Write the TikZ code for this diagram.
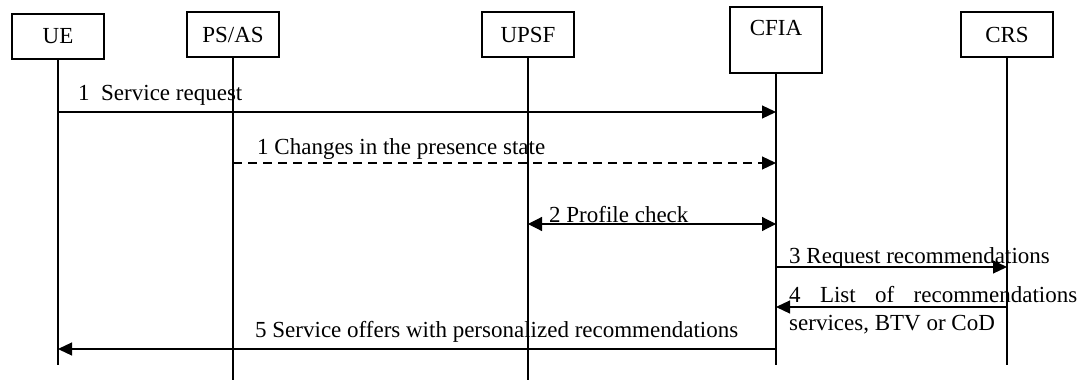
\documentclass[tikz,border=0pt]{standalone}
\usepackage{fontspec}
\setmainfont{Liberation Serif}
\usetikzlibrary{arrows.meta}
\begin{document}
\begin{tikzpicture}[x=1pt,y=-1pt,
  ent/.style={draw,line width=1.3pt,minimum width=92pt,minimum height=45pt,inner sep=0pt,font=\fontsize{23}{26}\selectfont},
  life/.style={line width=1.2pt},
  msg/.style={line width=1.2pt,-{Triangle[length=14pt,width=13pt]}},
  dmsg/.style={msg,dash pattern=on 9pt off 6pt},
  bmsg/.style={line width=1.2pt,{Triangle[length=14pt,width=14pt]}-{Triangle[length=14pt,width=14pt]}},
  lbl/.style={anchor=base west,inner sep=0pt,font=\fontsize{23}{26}\selectfont}]
\useasboundingbox (0,0) rectangle (1085,380);
% entities
\node[ent] (ue) at (58,36.5) {UE};
\node[ent] (ps) at (233,34.5) {PS/AS};
\node[ent] (upsf) at (528,34.5) {UPSF};
\node[ent,minimum height=66pt] (cfia) at (776,40) {};
\node[lbl,anchor=base] (cfiat) at (776,35) {CFIA};
\node[ent] (crs) at (1007,34.5) {CRS};
% lifeline ends
\coordinate (ueend) at (58,365);
\coordinate (psend) at (233,380);
\coordinate (upsfend) at (528,380);
\coordinate (cfiaend) at (776,365);
\coordinate (crsend) at (1007,365);
\draw[life] (ue.south) -- (ueend);
\draw[life] (ps.south) -- (psend);
\draw[life] (upsf.south) -- (upsfend);
\draw[life] (cfia.south) -- (cfiaend);
\draw[life] (crs.south) -- (crsend);
% message rows
\coordinate (r1) at (0,112);
\coordinate (r1b) at (0,163);
\coordinate (r2) at (0,224);
\coordinate (r3) at (0,267);
\coordinate (r4) at (0,307);
\coordinate (r5) at (0,349);
\draw[msg] (ue.south |- r1) -- (cfia.south |- r1);
\draw[dmsg] (ps.south |- r1b) -- (cfia.south |- r1b);
\draw[bmsg] (upsf.south |- r2) -- (cfia.south |- r2);
\draw[msg] (cfia.south |- r3) -- (crs.south |- r3);
\draw[msg] (crs.south |- r4) -- (cfia.south |- r4);
\draw[msg] (cfia.south |- r5) -- (ue.south |- r5);
% labels
\node[lbl] (l1) at (78,100) {1\ \ Service request};
\node[lbl] (l1b) at (257,154) {1 Changes in the presence state};
\node[lbl] (l2) at (549,222) {2 Profile check};
\node[lbl] (l3) at (789,263) {3 Request recommendations};
\node[lbl] (l4a) at (789,302) {\makebox[288pt][s]{4 List of recommendations}};
\node[lbl] (l4b) at (789,330) {services, BTV or CoD};
\node[lbl] (l5) at (255,337) {5 Service offers with personalized recommendations};
\end{tikzpicture}
\end{document}
